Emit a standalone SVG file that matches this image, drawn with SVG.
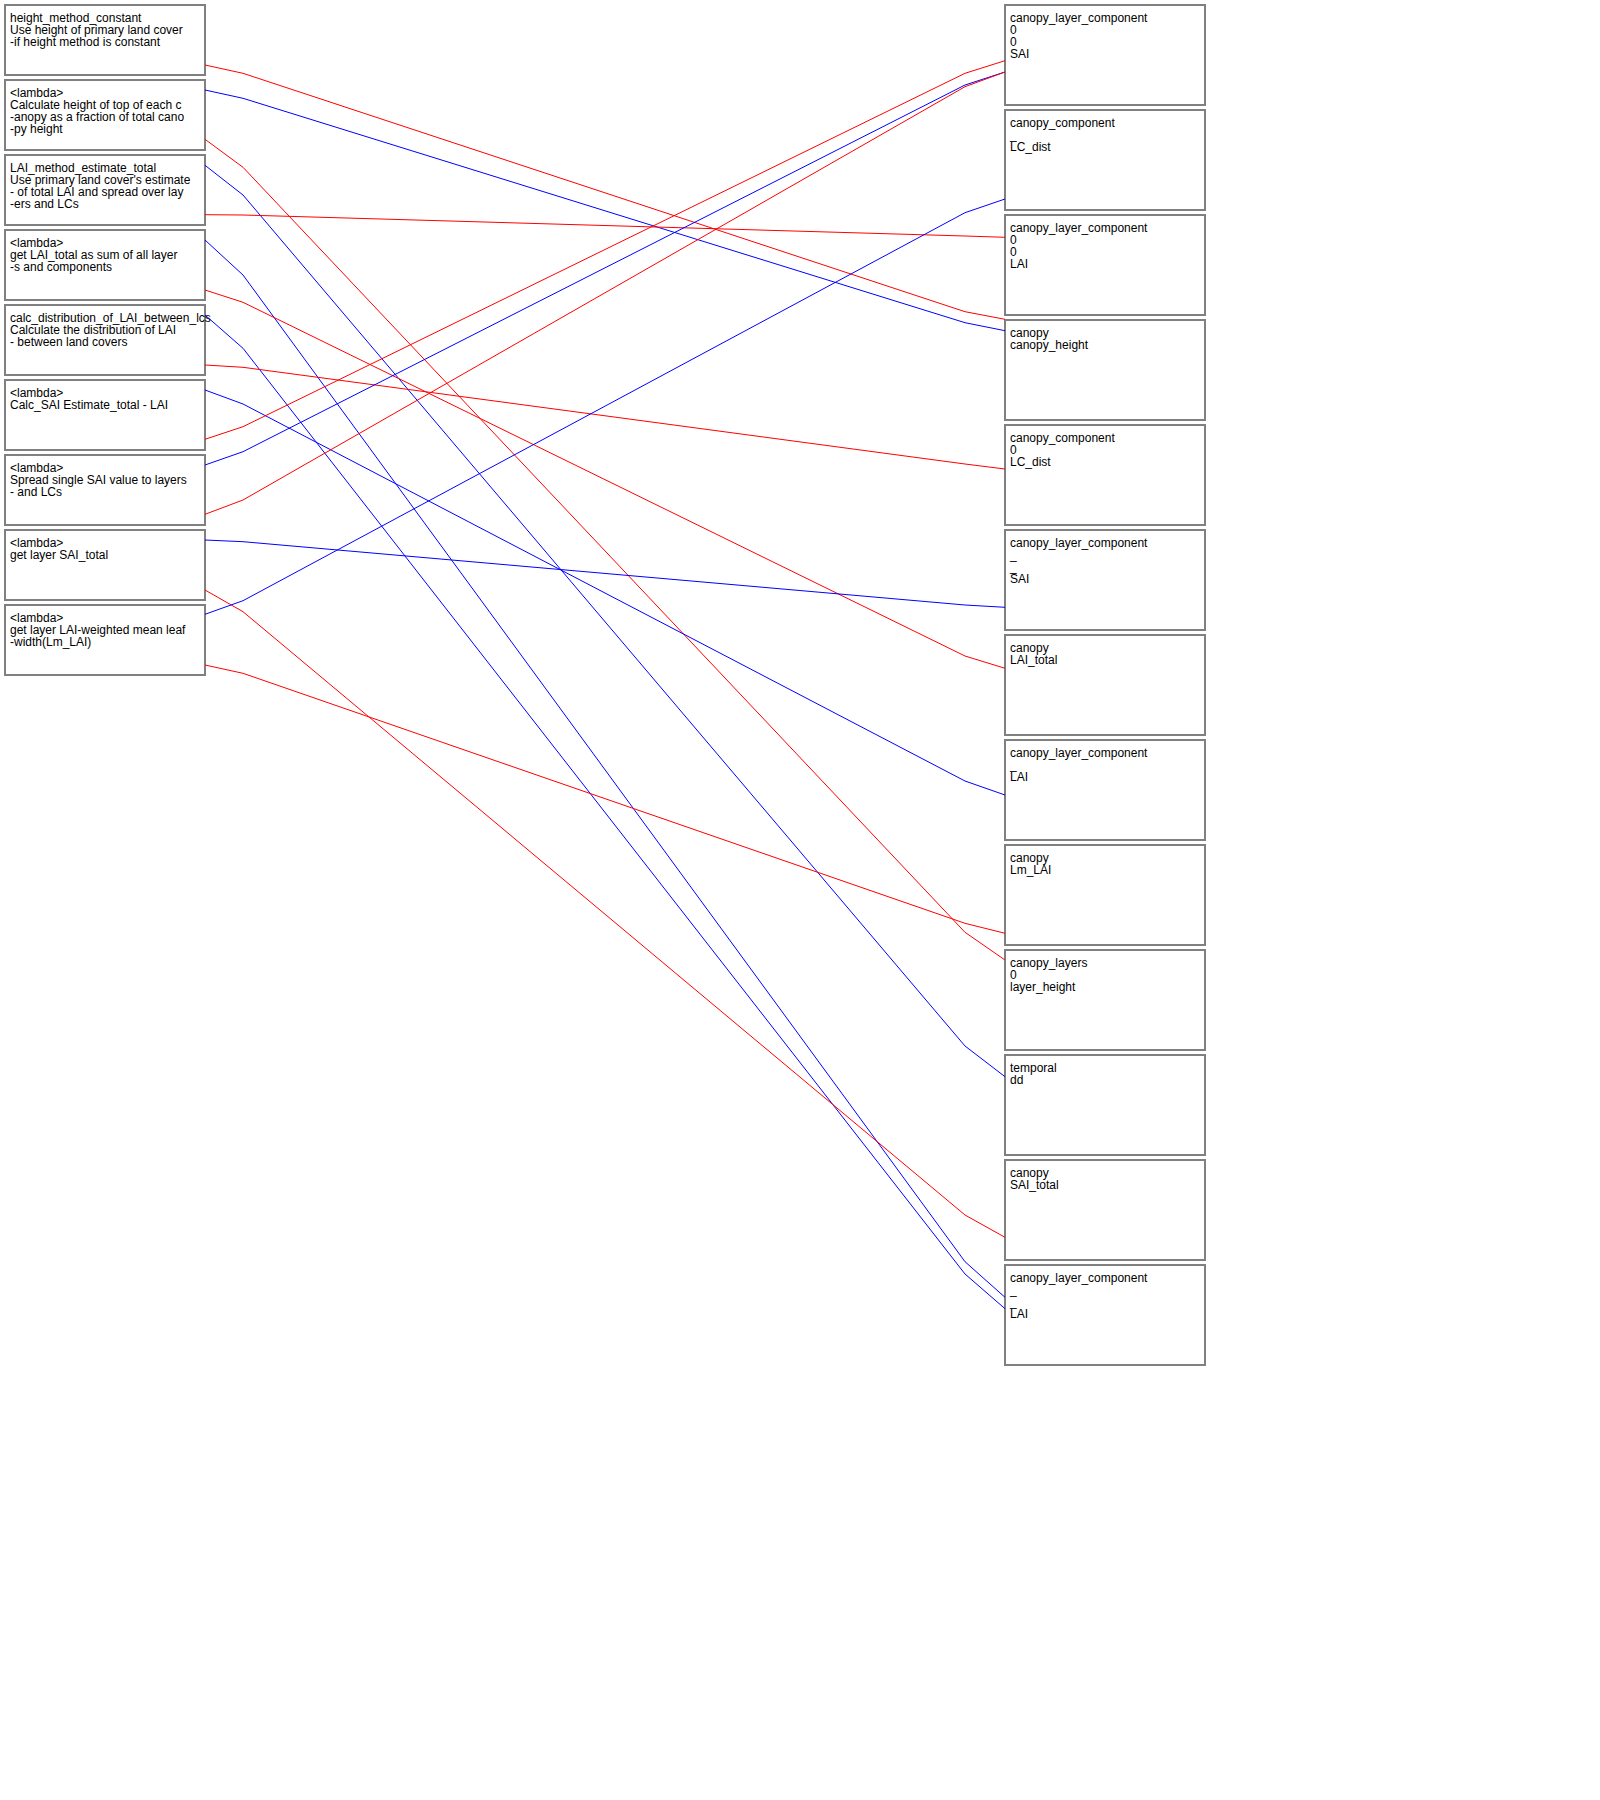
<svg xmlns="http://www.w3.org/2000/svg" width="1600" height="1800" viewBox="0 0 1600 1800">
<style>
.box{fill:#ffffff;stroke:#808080;stroke-width:2}
text{font-family:"Liberation Sans",Arial,sans-serif;font-size:12px;fill:#000000}
.r{fill:none;stroke:#ff0000;stroke-width:1}
.b{fill:none;stroke:#0000ff;stroke-width:1}
</style>
<rect x="0" y="0" width="1600" height="1800" fill="#ffffff"/>
<g id="nodes">
<g id="L1"><rect class="box" x="5" y="5" width="200" height="70"/><text><tspan x="10" y="21.7">height_method_constant</tspan><tspan x="10" y="33.7">Use height of primary land cover</tspan><tspan x="10" y="45.7">-if height method is constant</tspan></text></g>
<g id="L2"><rect class="box" x="5" y="80" width="200" height="70"/><text><tspan x="10" y="96.7">&lt;lambda&gt;</tspan><tspan x="10" y="108.7">Calculate height of top of each c</tspan><tspan x="10" y="120.7">-anopy as a fraction of total cano</tspan><tspan x="10" y="132.7">-py height</tspan></text></g>
<g id="L3"><rect class="box" x="5" y="155" width="200" height="70"/><text><tspan x="10" y="171.7">LAI_method_estimate_total</tspan><tspan x="10" y="183.7">Use primary land cover's estimate</tspan><tspan x="10" y="195.7">- of total LAI and spread over lay</tspan><tspan x="10" y="207.7">-ers and LCs</tspan></text></g>
<g id="L4"><rect class="box" x="5" y="230" width="200" height="70"/><text><tspan x="10" y="246.7">&lt;lambda&gt;</tspan><tspan x="10" y="258.7">get LAI_total as sum of all layer</tspan><tspan x="10" y="270.7">-s and components</tspan></text></g>
<g id="L5"><rect class="box" x="5" y="305" width="200" height="70"/><text><tspan x="10" y="321.7">calc_distribution_of_LAI_between_lcs</tspan><tspan x="10" y="333.7">Calculate the distribution of LAI</tspan><tspan x="10" y="345.7">- between land covers</tspan></text></g>
<g id="L6"><rect class="box" x="5" y="380" width="200" height="70"/><text><tspan x="10" y="396.7">&lt;lambda&gt;</tspan><tspan x="10" y="408.7">Calc_SAI Estimate_total - LAI</tspan></text></g>
<g id="L7"><rect class="box" x="5" y="455" width="200" height="70"/><text><tspan x="10" y="471.7">&lt;lambda&gt;</tspan><tspan x="10" y="483.7">Spread single SAI value to layers</tspan><tspan x="10" y="495.7">- and LCs</tspan></text></g>
<g id="L8"><rect class="box" x="5" y="530" width="200" height="70"/><text><tspan x="10" y="546.7">&lt;lambda&gt;</tspan><tspan x="10" y="558.7">get layer SAI_total</tspan></text></g>
<g id="L9"><rect class="box" x="5" y="605" width="200" height="70"/><text><tspan x="10" y="621.7">&lt;lambda&gt;</tspan><tspan x="10" y="633.7">get layer LAI-weighted mean leaf</tspan><tspan x="10" y="645.7">-width(Lm_LAI)</tspan></text></g>

<g id="R1"><rect class="box" x="1005" y="5" width="200" height="100"/><text><tspan x="1010" y="21.7">canopy_layer_component</tspan><tspan x="1010" y="33.7">0</tspan><tspan x="1010" y="45.7">0</tspan><tspan x="1010" y="57.7">SAI</tspan></text></g>
<g id="R2"><rect class="box" x="1005" y="110" width="200" height="100"/><text><tspan x="1010" y="126.7">canopy_component</tspan><tspan x="1010" y="138.7">_</tspan><tspan x="1010" y="150.7">LC_dist</tspan></text></g>
<g id="R3"><rect class="box" x="1005" y="215" width="200" height="100"/><text><tspan x="1010" y="231.7">canopy_layer_component</tspan><tspan x="1010" y="243.7">0</tspan><tspan x="1010" y="255.7">0</tspan><tspan x="1010" y="267.7">LAI</tspan></text></g>
<g id="R4"><rect class="box" x="1005" y="320" width="200" height="100"/><text><tspan x="1010" y="336.7">canopy</tspan><tspan x="1010" y="348.7">canopy_height</tspan></text></g>
<g id="R5"><rect class="box" x="1005" y="425" width="200" height="100"/><text><tspan x="1010" y="441.7">canopy_component</tspan><tspan x="1010" y="453.7">0</tspan><tspan x="1010" y="465.7">LC_dist</tspan></text></g>
<g id="R6"><rect class="box" x="1005" y="530" width="200" height="100"/><text><tspan x="1010" y="546.7">canopy_layer_component</tspan><tspan x="1010" y="558.7">_</tspan><tspan x="1010" y="570.7">_</tspan><tspan x="1010" y="582.7">SAI</tspan></text></g>
<g id="R7"><rect class="box" x="1005" y="635" width="200" height="100"/><text><tspan x="1010" y="651.7">canopy</tspan><tspan x="1010" y="663.7">LAI_total</tspan></text></g>
<g id="R8"><rect class="box" x="1005" y="740" width="200" height="100"/><text><tspan x="1010" y="756.7">canopy_layer_component</tspan><tspan x="1010" y="768.7">_</tspan><tspan x="1010" y="780.7">LAI</tspan></text></g>
<g id="R9"><rect class="box" x="1005" y="845" width="200" height="100"/><text><tspan x="1010" y="861.7">canopy</tspan><tspan x="1010" y="873.7">Lm_LAI</tspan></text></g>
<g id="R10"><rect class="box" x="1005" y="950" width="200" height="100"/><text><tspan x="1010" y="966.7">canopy_layers</tspan><tspan x="1010" y="978.7">0</tspan><tspan x="1010" y="990.7">layer_height</tspan></text></g>
<g id="R11"><rect class="box" x="1005" y="1055" width="200" height="100"/><text><tspan x="1010" y="1071.7">temporal</tspan><tspan x="1010" y="1083.7">dd</tspan></text></g>
<g id="R12"><rect class="box" x="1005" y="1160" width="200" height="100"/><text><tspan x="1010" y="1176.7">canopy</tspan><tspan x="1010" y="1188.7">SAI_total</tspan></text></g>
<g id="R13"><rect class="box" x="1005" y="1265" width="200" height="100"/><text><tspan x="1010" y="1281.7">canopy_layer_component</tspan><tspan x="1010" y="1293.7">_</tspan><tspan x="1010" y="1305.7">_</tspan><tspan x="1010" y="1317.7">LAI</tspan></text></g>
</g>
<g id="connectors">
<polyline class="r" points="205,65 243,73.3 965,311.7 1005,319.3"/>
<polyline class="b" points="205,90 243,98.3 965,322.7 1005,330.7"/>
<polyline class="r" points="205,139.3 243,167.3 965,932.3 1005,960"/>
<polyline class="b" points="205,165.3 243,195 965,1046 1005,1076.7"/>
<polyline class="r" points="205,214.7 243,215 965,236 1005,237.3"/>
<polyline class="b" points="205,240 243,275 965,1261.7 1005,1297.3"/>
<polyline class="r" points="205,290 243,302.3 965,656 1005,668.3"/>
<polyline class="b" points="205,315 243,348.3 965,1274 1005,1308.7"/>
<polyline class="r" points="205,365 243,367.3 965,464 1005,469"/>
<polyline class="b" points="205,390 243,404 965,781 1005,795"/>
<polyline class="r" points="205,439.3 243,426.7 965,73.3 1005,60.7"/>
<polyline class="b" points="205,465 243,451.7 965,85 1005,72"/>
<polyline class="r" points="205,514.3 243,500 965,86.7 1005,72"/>
<polyline class="b" points="205,540 243,541.7 965,605 1005,607.3"/>
<polyline class="r" points="205,590 243,611.7 965,1215 1005,1237.3"/>
<polyline class="b" points="205,614.3 243,600.7 965,212.7 1005,199"/>
<polyline class="r" points="205,665 243,673.3 965,923.3 1005,933.3"/>
</g>
</svg>
